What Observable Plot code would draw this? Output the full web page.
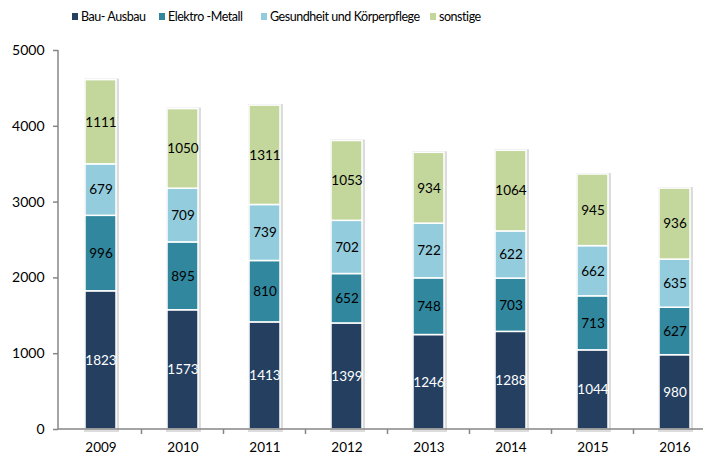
<!DOCTYPE html>
<html>
<head>
<meta charset="utf-8">
<script src="https://cdn.jsdelivr.net/npm/d3@7"></script>
<script src="https://cdn.jsdelivr.net/npm/@observablehq/plot@0.6"></script>
<style>
  html, body { margin: 0; padding: 0; background: #fff; overflow: hidden; }
  #wrap { width: 703px; height: 459px; position: relative; font-family: Lato, "Open Sans", sans-serif; }
  #legend { position: relative; height: 36px; width: 703px; font-size: 12.5px; letter-spacing: -0.45px; color: #000; }
  .item { position: absolute; top: 9px; display: flex; align-items: center; white-space: nowrap; }
  .sw { width: 6px; height: 7px; margin-right: 3px; }
</style>
</head>
<body>
<div id="wrap">
  <div id="legend"></div>
  <div id="chart"></div>
</div>
<script>
const years = ["2009", "2010", "2011", "2012", "2013", "2014", "2015", "2016"];
const seriesNames = ["Bau- Ausbau", "Elektro -Metall", "Gesundheit und Körperpflege", "sonstige"];
const bauAusbau = [1823, 1573, 1413, 1399, 1246, 1288, 1044, 980];
const elektroMetall = [996, 895, 810, 652, 748, 703, 713, 627];
const gesundheit = [679, 709, 739, 702, 722, 622, 662, 635];
const sonstige = [1111, 1050, 1311, 1053, 934, 1064, 945, 936];
const yTicks = [0, 1000, 2000, 3000, 4000, 5000];
const colors = ["#253f60", "#31879e", "#93cddd", "#c3d69b"];

const seriesValues = [bauAusbau, elektroMetall, gesundheit, sonstige];
const data = years.flatMap((yr, i) =>
  seriesNames.map((s, j) => ({year: yr, series: s, value: seriesValues[j][i]}))
);
const totals = years.map((yr, i) => ({year: yr, total: d3.sum(seriesValues, v => v[i])}));

// legend
const legendLefts = [72, 159, 261, 430];
const legend = document.getElementById("legend");
seriesNames.forEach((s, j) => {
  const it = document.createElement("div");
  it.className = "item";
  it.style.left = legendLefts[j] + "px";
  it.innerHTML = `<span class="sw" style="background:${colors[j]}"></span><span>${s}</span>`;
  legend.appendChild(it);
});

const axisColor = "#868686";

function axisLines(index, scales, values, dimensions) {
  const {x, y} = scales;
  const {width, marginLeft} = dimensions;
  const g = d3.create("svg:g").attr("stroke", axisColor).attr("stroke-width", 1.5);
  const y0 = y(0);
  g.append("line").attr("x1", marginLeft).attr("x2", marginLeft).attr("y1", y(yTicks[yTicks.length - 1])).attr("y2", y0);
  g.append("line").attr("x1", marginLeft).attr("x2", width).attr("y1", y0).attr("y2", y0);
  const step = x(years[1]) - x(years[0]);
  const bw = x.bandwidth ? x.bandwidth() : step * 0.38;
  years.forEach(yr => {
    const bx = x(yr) + bw / 2 + step / 2;
    if (bx < width) g.append("line").attr("x1", bx).attr("x2", bx).attr("y1", y0).attr("y2", y0 + 5);
  });
  return g.node();
}

const chart = Plot.plot({
  width: 703,
  height: 423,
  marginTop: 14,
  marginBottom: 30,
  marginLeft: 58,
  marginRight: 0,
  style: {fontFamily: "Lato, 'Open Sans', sans-serif", color: "#000", background: "#fff"},
  x: {domain: years, range: [59, 717], paddingInner: 0.62, paddingOuter: 0.31, align: 0.5, label: null},
  y: {domain: [0, 5000], label: null},
  color: {domain: seriesNames, range: colors},
  marks: [
    Plot.barY(totals, {x: "year", y: "total", fill: "none", stroke: "#dcdcdc", strokeWidth: 4, dx: 1, dy: 1}),
    Plot.barY(data, Plot.stackY({x: "year", y: "value", z: "series", fill: "series", stroke: "white", strokeWidth: 1.5, order: seriesNames})),
    Plot.text(data, Plot.stackY({x: "year", y: "value", z: "series", order: seriesNames,
      text: d => d.series === seriesNames[0] ? String(d.value) : "", fill: "white", fontSize: 13.5})),
    Plot.text(data, Plot.stackY({x: "year", y: "value", z: "series", order: seriesNames,
      text: d => d.series === seriesNames[0] ? "" : String(d.value), fill: "black", fontSize: 13.5})),
    Plot.axisY({ticks: yTicks, tickSize: 5, tickPadding: 9, stroke: axisColor, fill: "black", fontSize: 14, strokeWidth: 1.5, label: null, tickFormat: d => String(d)}),
    Plot.axisX({tickSize: 0, tickPadding: 13, fontSize: 13.5, fill: "black", label: null}),
    axisLines
  ]
});
document.getElementById("chart").appendChild(chart);
</script>
</body>
</html>
